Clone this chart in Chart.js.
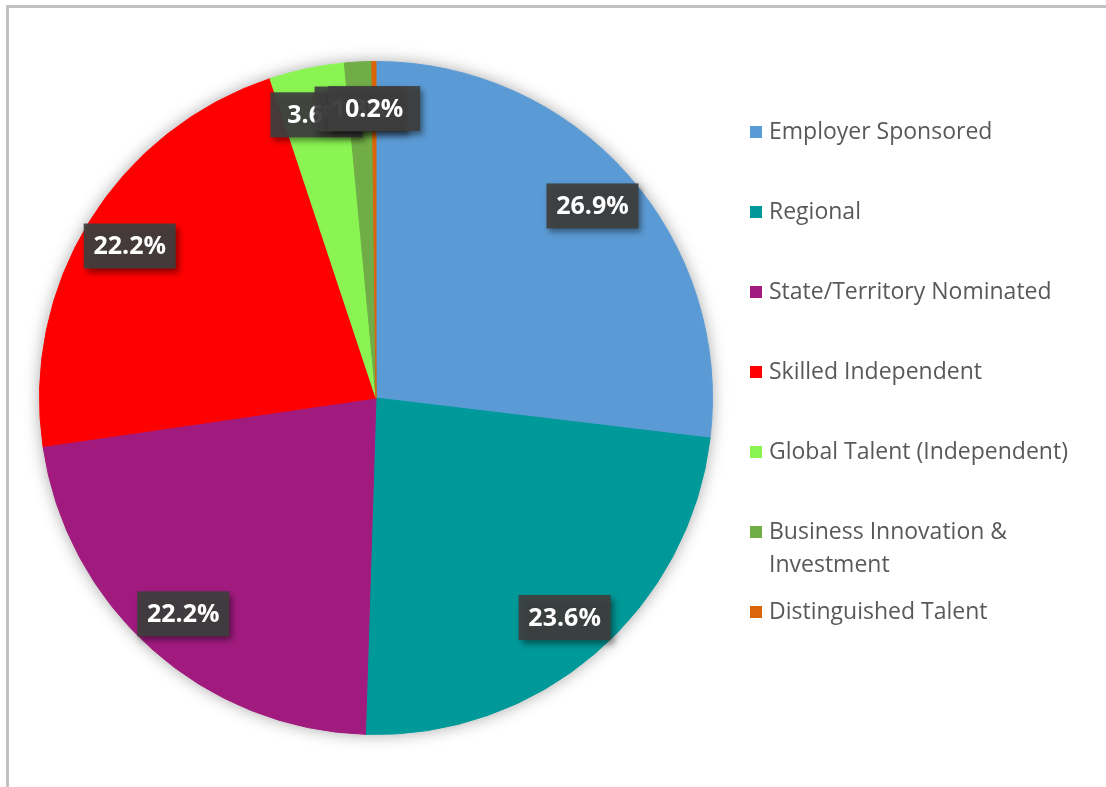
<!DOCTYPE html>
<html>
<head>
<meta charset="utf-8">
<script src="https://cdn.jsdelivr.net/npm/chart.js@4"></script>
<style>
  html, body { margin: 0; padding: 0; background: #ffffff; }
  canvas { display: block; }
</style>
</head>
<body>
<canvas id="c" width="1106" height="787"></canvas>
<script>
const categories = [
  'Employer Sponsored',
  'Regional',
  'State/Territory Nominated',
  'Skilled Independent',
  'Global Talent (Independent)',
  'Business Innovation & Investment',
  'Distinguished Talent'
];
const legendLines = [
  ['Employer Sponsored'],
  ['Regional'],
  ['State/Territory Nominated'],
  ['Skilled Independent'],
  ['Global Talent (Independent)'],
  ['Business Innovation &', 'Investment'],
  ['Distinguished Talent']
];
const shares = [26.9, 23.6, 22.2, 22.2, 3.6, 1.3, 0.2];
const colors = ['#5B9BD5', '#009999', '#A11B7E', '#FF0000', '#8AF552', '#70AD47', '#DA650B'];

const framePlugin = {
  id: 'frame',
  beforeDraw(chart) {
    const ctx = chart.ctx;
    ctx.save();
    ctx.fillStyle = '#ffffff';
    ctx.fillRect(0, 0, chart.width, chart.height);
    ctx.fillStyle = '#c2c2c2';
    ctx.fillRect(6, 5, 3, chart.height - 5);
    ctx.fillRect(6, 5, chart.width - 6, 3);
    ctx.restore();
  },
  beforeDatasetsDraw(chart) {
    const arc = chart.getDatasetMeta(0).data[0];
    if (!arc) return;
    const ctx = chart.ctx;
    ctx.save();
    ctx.shadowColor = 'rgba(0,0,0,0.35)';
    ctx.shadowBlur = 16;
    ctx.fillStyle = '#ffffff';
    ctx.beginPath();
    ctx.arc(arc.x, arc.y, arc.outerRadius, 0, Math.PI * 2);
    ctx.fill();
    ctx.restore();
  }
};

const labelPlugin = {
  id: 'boxLabels',
  afterDatasetsDraw(chart) {
    const ctx = chart.ctx;
    const meta = chart.getDatasetMeta(0);
    const data = chart.data.datasets[0].data;
    ctx.save();
    ctx.font = 'bold 25px "Open Sans"';
    ctx.textAlign = 'center';
    ctx.textBaseline = 'middle';
    meta.data.forEach((arc, i) => {
      const p = arc.getProps(['x', 'y', 'startAngle', 'endAngle', 'outerRadius'], true);
      const mid = (p.startAngle + p.endAngle) / 2;
      const r = p.outerRadius * 0.86;
      const cx = p.x + Math.cos(mid) * r;
      const cy = p.y + Math.sin(mid) * r;
      const w = 92, h = 45;
      ctx.shadowColor = 'rgba(0,0,0,0.45)';
      ctx.shadowBlur = 6;
      ctx.shadowOffsetX = 3;
      ctx.shadowOffsetY = 4;
      ctx.fillStyle = 'rgba(62,62,62,0.93)';
      ctx.fillRect(cx - w / 2, cy - h / 2, w, h);
      ctx.shadowColor = 'transparent';
      ctx.shadowBlur = 0;
      ctx.shadowOffsetX = 0;
      ctx.shadowOffsetY = 0;
      ctx.fillStyle = '#ffffff';
      ctx.fillText(data[i].toFixed(1) + '%', cx, cy + 1);
    });
    ctx.restore();
  }
};

const legendPlugin = {
  id: 'sideLegend',
  afterDraw(chart) {
    const ctx = chart.ctx;
    ctx.save();
    ctx.font = '23px "Open Sans"';
    ctx.textAlign = 'left';
    ctx.textBaseline = 'alphabetic';
    const x0 = 750, tx = 769, base0 = 139, step = 80, lineH = 33;
    legendLines.forEach((lines, i) => {
      const b = base0 + step * i;
      ctx.fillStyle = colors[i];
      ctx.fillRect(x0, b - 13, 12, 12);
      ctx.fillStyle = '#595959';
      lines.forEach((t, j) => ctx.fillText(t, tx, b + j * lineH));
    });
    ctx.restore();
  }
};

new Chart(document.getElementById('c'), {
  type: 'pie',
  data: {
    labels: categories,
    datasets: [{
      data: shares,
      backgroundColor: colors,
      borderColor: colors,
      borderWidth: 1
    }]
  },
  options: {
    responsive: false,
    animation: false,
    devicePixelRatio: 1,
    layout: { padding: { left: 39, right: 393, top: 61, bottom: 52 } },
    plugins: {
      legend: { display: false },
      tooltip: { enabled: false },
      title: { display: false }
    }
  },
  plugins: [framePlugin, labelPlugin, legendPlugin]
});
</script>
</body>
</html>
